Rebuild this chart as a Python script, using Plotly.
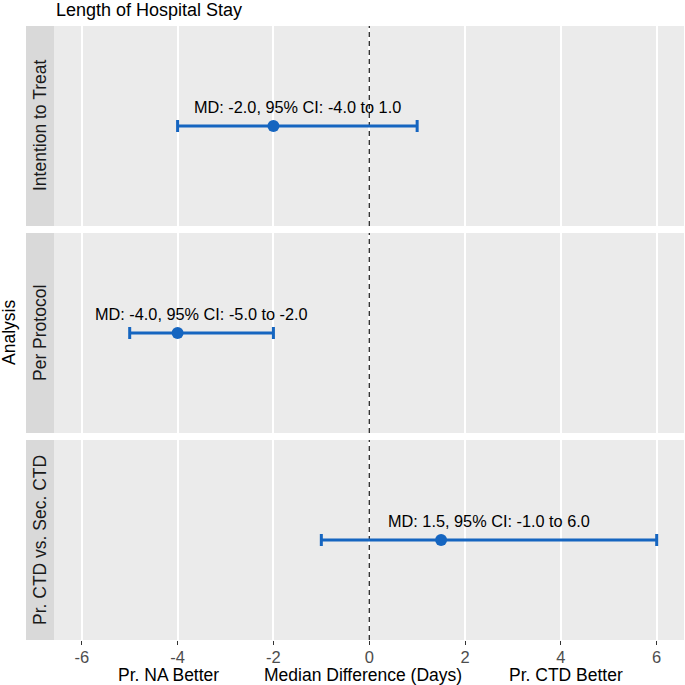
import plotly.graph_objects as go

# ---- data ----
analyses = ["Intention to Treat", "Per Protocol", "Pr. CTD vs. Sec. CTD"]
md = [-2.0, -4.0, 1.5]
ci_low = [-4.0, -5.0, -1.0]
ci_high = [1.0, -2.0, 6.0]
ref_line_x = 0
x_ticks = [-6, -4, -2, 0, 2, 4, 6]
x_tick_text = ["-6", "-4", "-2", "0", "2", "4", "6"]
chart_title = "Length of Hospital Stay"
x_title = "Median Difference (Days)"
left_label = "Pr. NA Better"
right_label = "Pr. CTD Better"
y_title = "Analysis"

# ---- layout helpers ----
W = H = 685
FONT = "Liberation Sans, Arial, Helvetica, sans-serif"
BLUE = "#1565C0"
TXT = 17.5


def px(x):
    return x / W


def py(y):
    return 1 - y / H


panels = [(26, 226), (233, 433), (440, 640)]
x_dom = [px(54), px(684)]
x_range = [-6.58, 6.57]
y_range = [0, 2]

fig = go.Figure()
layout_axes = {}

for i, (name, m, lo, hi) in enumerate(zip(analyses, md, ci_low, ci_high)):
    n = i + 1
    xa = "x" if n == 1 else f"x{n}"
    ya = "y" if n == 1 else f"y{n}"
    top, bot = panels[i]
    last = n == len(analyses)

    # dashed reference line at 0 (drawn first so it sits under the estimates)
    fig.add_trace(go.Scatter(
        x=[ref_line_x, ref_line_x], y=y_range, mode="lines",
        line=dict(color="black", width=1.1, dash="5px,4px"),
        xaxis=xa, yaxis=ya, showlegend=False, hoverinfo="skip",
    ))

    fig.add_trace(go.Scatter(
        x=[m], y=[1], mode="markers",
        marker=dict(size=12, color=BLUE),
        error_x=dict(type="data", symmetric=False, array=[hi - m],
                     arrayminus=[m - lo], color=BLUE, thickness=3, width=6),
        xaxis=xa, yaxis=ya, showlegend=False, hoverinfo="skip",
    ))

    fig.add_annotation(
        x=(lo + hi) / 2, y=1, xref=xa, yref=ya,
        text=f"MD: {m:.1f}, 95% CI: {lo:.1f} to {hi:.1f}",
        showarrow=False, yshift=19, yanchor="middle",
        font=dict(family=FONT, size=16.3, color="#000000"),
    )

    # strip
    fig.add_shape(type="rect", xref="paper", yref="paper",
                  x0=px(26), x1=px(54), y0=py(bot), y1=py(top),
                  fillcolor="#D9D9D9", line=dict(width=0), layer="below")
    fig.add_annotation(
        x=px(40), y=py((top + bot) / 2), xref="paper", yref="paper",
        text=name, textangle=-90, showarrow=False,
        xanchor="center", yanchor="middle",
        font=dict(family=FONT, size=TXT, color="#1A1A1A"),
    )

    xkey = "xaxis" if n == 1 else f"xaxis{n}"
    ykey = "yaxis" if n == 1 else f"yaxis{n}"
    layout_axes[xkey] = dict(
        domain=x_dom, anchor=ya, range=x_range,
        tickmode="array", tickvals=x_ticks, ticktext=x_tick_text,
        showgrid=True, gridcolor="white", gridwidth=1.6,
        zeroline=False, showline=False,
        showticklabels=last, ticks="outside" if last else "",
        ticklen=4, tickwidth=1, tickcolor="#333333",
        ticklabelstandoff=-2,
        tickfont=dict(family=FONT, size=16.5, color="#4D4D4D"),
        fixedrange=True, automargin=False,
    )
    layout_axes[ykey] = dict(
        domain=[py(bot), py(top)], anchor=xa, range=y_range,
        showgrid=False, zeroline=False, showline=False,
        showticklabels=False, ticks="", fixedrange=True, automargin=False,
    )

# titles
fig.add_annotation(x=px(54), y=py(10), xref="paper", yref="paper",
                   text=chart_title, showarrow=False,
                   xanchor="left", yanchor="middle",
                   font=dict(family=FONT, size=18, color="#000000"))
fig.add_annotation(x=px(9), y=py(333), xref="paper", yref="paper",
                   text=y_title, textangle=-90, showarrow=False,
                   xanchor="center", yanchor="middle",
                   font=dict(family=FONT, size=TXT, color="#000000"))
for txt, cx in [(left_label, 168), (x_title, 363), (right_label, 566)]:
    fig.add_annotation(x=px(cx), y=py(675), xref="paper", yref="paper",
                       text=txt, showarrow=False,
                       xanchor="center", yanchor="middle",
                       font=dict(family=FONT, size=TXT, color="#000000"))

fig.update_layout(
    width=W, height=H,
    margin=dict(l=0, r=0, t=0, b=0, autoexpand=False),
    paper_bgcolor="white", plot_bgcolor="#EBEBEB",
    showlegend=False,
    **layout_axes,
)

fig.write_html(
    "out.html",
    config={"displayModeBar": False},
    post_script="document.body.style.margin='0px';document.body.style.padding='0px';",
)
